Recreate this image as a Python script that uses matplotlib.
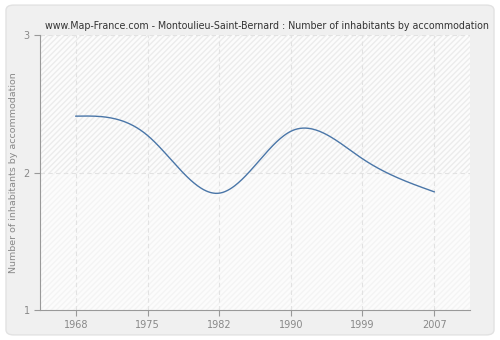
import matplotlib
matplotlib.use('Agg')
import matplotlib.pyplot as plt
from matplotlib.patches import FancyBboxPatch, Rectangle
import numpy as np

years = ['1968', '1975', '1982', '1990', '1999', '2007']
values = [2.41, 2.27, 1.85, 2.30, 2.10, 1.86]


# natural cubic spline over the category index
def natural_spline(y, num=60):
    y = np.asarray(y, dtype=float)
    n = len(y)
    A = np.zeros((n, n))
    b = np.zeros(n)
    A[0, 0] = 1
    A[-1, -1] = 1
    for i in range(1, n - 1):
        A[i, i - 1] = 1
        A[i, i] = 4
        A[i, i + 1] = 1
        b[i] = 6 * (y[i + 1] - 2 * y[i] + y[i - 1])
    M = np.linalg.solve(A, b)
    xs, ys = [], []
    for i in range(n - 1):
        t = np.linspace(0, 1, num, endpoint=(i == n - 2))
        s = (M[i] * (1 - t) ** 3 / 6 + M[i + 1] * t ** 3 / 6
             + (y[i] - M[i] / 6) * (1 - t) + (y[i + 1] - M[i + 1] / 6) * t)
        xs.append(i + t)
        ys.append(s)
    return np.concatenate(xs), np.concatenate(ys)


fig = plt.figure(figsize=(5, 3.4), dpi=100)
fig.patch.set_facecolor('white')
bg = FancyBboxPatch((0.012, 0.015), 0.976, 0.97, boxstyle='round,pad=0,rounding_size=0.015',
                    transform=fig.transFigure, facecolor='#f0f0f0', edgecolor='#e2e2e2', lw=1,
                    zorder=-10)
fig.patches.append(bg)

ax = fig.add_axes([0.08, 0.088, 0.86, 0.809])
ax.set_facecolor('#fcfcfc')
ax.add_patch(Rectangle((-0.5, 2), 6, 1, facecolor='none', edgecolor='#ececec', hatch='//////', lw=0))
ax.add_patch(Rectangle((-0.5, 1), 6, 1, facecolor='none', edgecolor='#f4f4f4', hatch='//////', lw=0))

x = np.arange(len(years))
sx, sy = natural_spline(values)
ax.plot(sx, sy, color='#4a76a8', lw=1.0, zorder=3)

ax.set_xlim(-0.5, 5.5)
ax.set_ylim(1, 3)
ax.set_xticks(x)
ax.set_xticklabels(years)
ax.set_yticks([1, 2, 3])
for xi in x:
    ax.axvline(xi, color='#e2e2e2', ls=(0, (4, 3)), lw=0.8, zorder=1)
ax.axhline(2, color='#e2e2e2', ls=(0, (4, 3)), lw=0.8, zorder=1)
ax.axhline(3, color='#e2e2e2', ls=(0, (4, 3)), lw=0.8, zorder=1)

for s in ['top', 'right']:
    ax.spines[s].set_visible(False)
ax.spines['left'].set_color('#999999')
ax.spines['bottom'].set_color('#999999')
ax.tick_params(colors='#999999', labelcolor='#888888', labelsize=7, length=4, width=0.8)

ax.set_ylabel('Number of inhabitants by accommodation', color='#888888', fontsize=6.8, labelpad=4)
fig.text(0.533, 0.91, 'www.Map-France.com - Montoulieu-Saint-Bernard : Number of inhabitants by accommodation',
         color='#333333', fontsize=6.85, ha='center', va='bottom')

fig.savefig('out.png', dpi=100)
